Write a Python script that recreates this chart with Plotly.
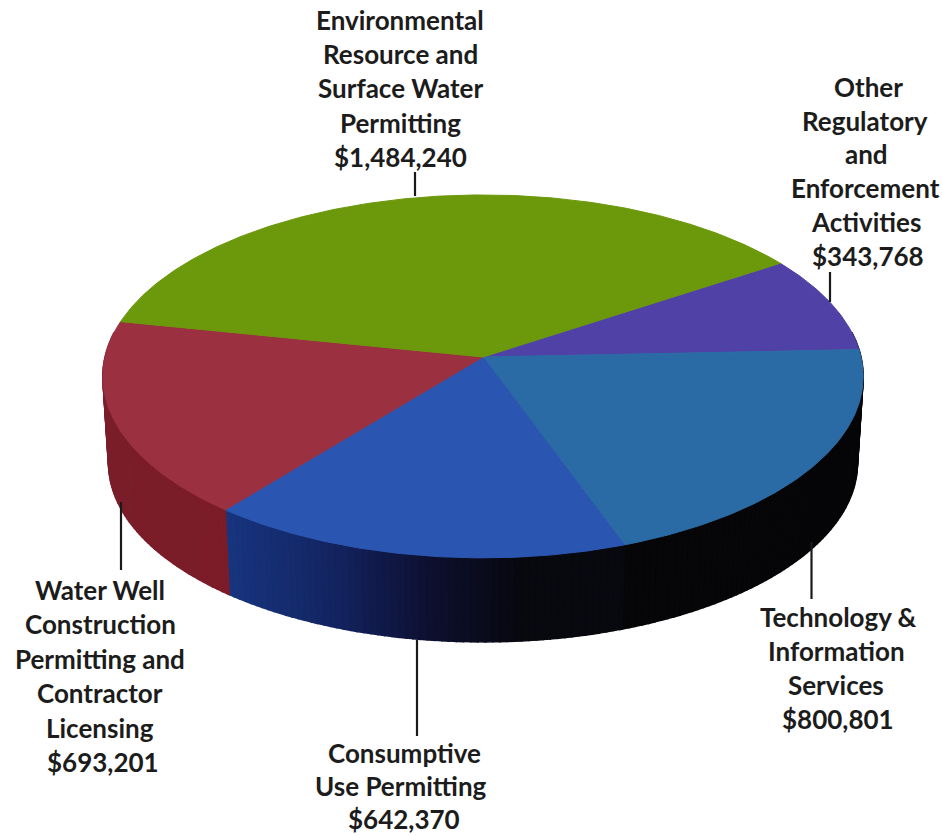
import numpy as np
import plotly.graph_objects as go

# Budget categories, clockwise from the upper right of the disc
categories = [
    ["Other", "Regulatory", "and", "Enforcement", "Activities"],
    ["Technology &", "Information", "Services"],
    ["Consumptive", "Use Permitting"],
    ["Water Well", "Construction", "Permitting and", "Contractor", "Licensing"],
    ["Environmental", "Resource and", "Surface Water", "Permitting"],
]
amounts = [343768, 800801, 642370, 693201, 1484240]

top_colors = ["#5041a6", "#2b6ba5", "#2a55b0", "#9a3040", "#6c980c"]
side_stops = [
    [(0, "#08080a"), (943, "#08080a")],
    [(0, "#060608"), (943, "#060608")],
    [(230, "#17357f"), (340, "#13235f"), (430, "#0d1030"), (520, "#08080f")],
    [(100, "#7a1e2a"), (235, "#7c1c28")],
    [(0, "#4a6a08"), (943, "#4a6a08")],
]

# Label placement: centre x, first line y, line step, leader line x, y0, y1
label_layout = [
    (866, 87, 33.7, 830, 272, 302),
    (837, 617, 34.0, 811.5, 542, 599),
    (403, 753, 33.2, 417, 640, 736),
    (100, 590, 34.4, 121, 502, 570),
    (400, 20, 34.2, 415, 172, 196),
]
# Small per-line nudges of the stacked text, in pixels
line_shifts = [
    [2, -1, 0, -1, 0, 2],
    [1, -1, -1, 1],
    [1, -2, 1],
    [0, 0, 0, 0, 0, 3],
    [0, 0, 0, 0, 0],
]

# Disc projection: perspective circle drawn in pixel-scaled axes
CX, CY = 483, 357
A, B, K = 378, 179.4, 0.107
START_DEG = 33.6
DEPTH, BASE_SCALE = 87, 0.985
WALL_FROM, WALL_TO = -188, 8


def project(theta_deg, depth=0.0, scale=1.0):
    t = np.radians(theta_deg)
    w = 1 + K * np.sin(t)
    return CX + scale * A * np.cos(t) / w, CY + depth - scale * B * np.sin(t) / w


def side_color(stops, x):
    xs = [s[0] for s in stops]
    rgb = [[int(s[1][i:i + 2], 16) for s in stops] for i in (1, 3, 5)]
    return "rgb({:.0f},{:.0f},{:.0f})".format(*[np.interp(x, xs, c) for c in rgb])


total = sum(amounts)
sweeps = [360 * a / total for a in amounts]
edges = START_DEG - np.concatenate([[0], np.cumsum(sweeps)])

fig = go.Figure()

# Outer wall of the disc, built from short quads so the shade can follow x
for i, (hi, lo) in enumerate(zip(edges[:-1], edges[1:])):
    a0, a1 = max(lo, WALL_FROM), min(hi, WALL_TO)
    if a0 >= a1:
        continue
    steps = np.arange(a0, a1, 1.0).tolist() + [a1]
    for t0, t1 in zip(steps[:-1], steps[1:]):
        xt, yt = project(np.array([t0, t1]))
        xb, yb = project(np.array([t1, t0]), DEPTH, BASE_SCALE)
        col = side_color(side_stops[i], float((xt.mean() + xb.mean()) / 2))
        fig.add_trace(go.Scatter(
            x=np.r_[xt, xb, xt[0]], y=np.r_[yt, yb, yt[0]], mode="lines",
            fill="toself", fillcolor=col, line=dict(color=col, width=1.5),
            hoverinfo="skip", showlegend=False))

# Top face of each slice
for i, (hi, lo) in enumerate(zip(edges[:-1], edges[1:])):
    arc = np.linspace(hi, lo, max(int(hi - lo) * 2, 8))
    ax, ay = project(arc)
    fig.add_trace(go.Scatter(
        x=np.r_[CX, ax, CX], y=np.r_[CY, ay, CY], mode="lines",
        fill="toself", fillcolor=top_colors[i],
        line=dict(color=top_colors[i], width=1),
        hoverinfo="skip", showlegend=False))

# Leader lines and stacked label text
annotations = []
for lines, amount, shifts, (cx, y0, step, lx, ly0, ly1) in zip(
        categories, amounts, line_shifts, label_layout):
    fig.add_trace(go.Scatter(
        x=[lx, lx], y=[ly0, ly1], mode="lines",
        line=dict(color="#1a1a1a", width=2.2),
        hoverinfo="skip", showlegend=False))
    for n, text in enumerate(lines + [f"${amount:,}"]):
        annotations.append(dict(
            x=cx + shifts[n], y=y0 + n * step, text=f"<b>{text}</b>", showarrow=False,
            xanchor="center", yanchor="middle",
            font=dict(family="Lato, Carlito, sans-serif", size=26, color="#1c1c1c")))

fig.update_layout(
    width=943, height=835, margin=dict(l=0, r=0, t=0, b=0),
    paper_bgcolor="white", plot_bgcolor="white", showlegend=False,
    xaxis=dict(range=[0, 943], visible=False, fixedrange=True),
    yaxis=dict(range=[835, 0], visible=False, fixedrange=True),
    annotations=annotations,
)

fig.write_html("out.html", config=dict(displayModeBar=False))
